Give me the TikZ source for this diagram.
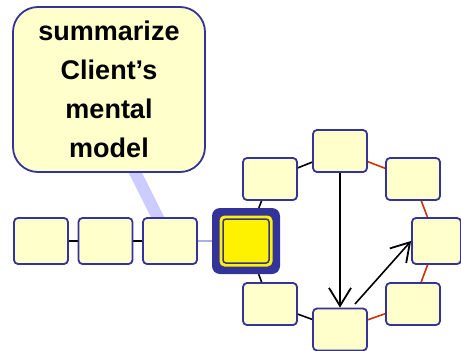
\documentclass[tikz,border=0pt]{standalone}
\usepackage{fontspec}
\setmainfont{Liberation Sans}
\usetikzlibrary{arrows.meta}
\definecolor{bluedk}{HTML}{333399}
\definecolor{lyel}{HTML}{FFFFCC}
\definecolor{lav}{HTML}{CCCCFF}
\definecolor{redl}{HTML}{CC3300}
\pgfdeclarelayer{bg}
\pgfsetlayers{bg,main}
\begin{document}
\begin{tikzpicture}[x=1pt,y=-1pt,
  box/.style={draw=bluedk, fill=lyel, line width=1.8pt, rounded corners=4pt, minimum width=54pt, minimum height=42pt, inner sep=0pt},
  cbox/.style={box, minimum height=46pt},
  blk/.style={draw=black, line width=1.6pt},
  rd/.style={draw=redl, line width=1.6pt},
  arr/.style={draw=black, line width=1.6pt, -{Straight Barb[length=18pt,width=22pt,line width=1.8pt]}}]
\useasboundingbox (0,0) rectangle (461,351);
% callout
\node[draw=bluedk, fill=lyel, line width=1.8pt, rounded corners=25pt, minimum width=192pt, minimum height=165pt, inner sep=0pt, align=center, font=\bfseries\fontsize{27}{39}\selectfont] (callout) at (109,89.5) {\raisebox{-2pt}{}summarize\\Client’s\\mental\\model};
% chain
\node[cbox] (c1) at (41,241) {};
\node[cbox] (c2) at (105.5,241) {};
\node[cbox] (c3) at (170,241) {};
% big box
\node[fill=bluedk, rounded corners=8pt, minimum width=68pt, minimum height=66pt, inner sep=0pt] (big) at (246,241) {};
\node[fill=yellow, rounded corners=5pt, minimum width=53pt, minimum height=51pt, inner sep=0pt] (bigy) at (246,241) {};
\node[draw=bluedk, fill=yellow, line width=1.5pt, rounded corners=3pt, minimum width=46pt, minimum height=44pt, inner sep=0pt] (bigi) at (246,241) {};
% ring
\node[box] (tl) at (270,179) {};
\node[box] (top) at (340,151) {};
\node[box] (tr) at (413,179) {};
\node[box, minimum width=49pt, minimum height=46pt] (r) at (436.5,241) {};
\node[box] (br) at (413,304) {};
\node[box] (b) at (340,329.5) {};
\node[box] (bl) at (270,304) {};
\coordinate (tail1) at (132,166);
\coordinate (tail2) at (160,222);
\coordinate (a2s) at (355,304);
\begin{pgfonlayer}{bg}
\draw[lav, line width=12pt] (tail1) -- (tail2);
\draw[blk] (c1) -- (c2);
\draw[blk] (c2) -- (c3);
\draw[draw=lav!80!bluedk, line width=1.6pt] (c3) -- (big);
\draw[blk] (big) -- (tl);
\draw[blk] (tl) -- (top);
\draw[blk] (big) -- (bl);
\draw[blk] (bl) -- (b);
\draw[rd] (b) -- (br);
\draw[rd] (br) -- (r);
\draw[rd] (r) -- (tr);
\draw[rd] (tr) -- (top);
\end{pgfonlayer}
\draw[arr] (top) -- (b);
\draw[arr] (a2s) -- (r.west);
\end{tikzpicture}
\end{document}
